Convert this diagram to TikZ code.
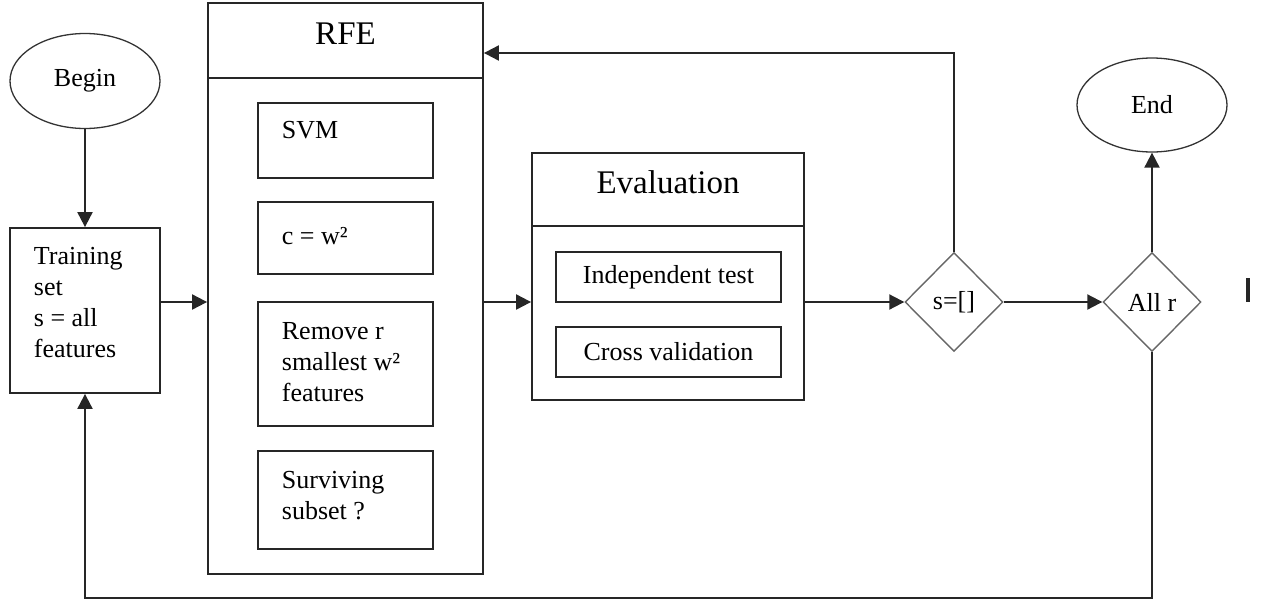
\documentclass[tikz,border=0pt]{standalone}
\usepackage{fontspec}
\setmainfont{Liberation Serif}
\usetikzlibrary{shapes.geometric,arrows.meta,calc}
\begin{document}
\begin{tikzpicture}[x=1pt,y=-1pt,line width=1.8pt,
  box/.style={draw=black!85, rectangle, inner sep=0pt, line width=1.8pt},
  oval/.style={draw=black!80, ellipse, inner sep=0pt, line width=1.3pt, font=\fontsize{26}{31}\selectfont},
  dia/.style={draw=black!60, diamond, inner sep=0pt, line width=1.4pt, minimum width=98pt, minimum height=99pt, font=\fontsize{26}{31}\selectfont},
  txt/.style={inner sep=0pt, align=left, font=\fontsize{26}{31}\selectfont},
  head/.style={inner sep=0pt, font=\fontsize{33}{38}\selectfont},
  arr/.style={draw=black!85, line width=2pt, -{Triangle[length=15pt,width=15pt]}}]
\useasboundingbox (0,0) rectangle (1266,603);
% helper coordinates
\coordinate (ymid) at (0,302);
\coordinate (ytop) at (0,53);
\coordinate (ybot) at (0,598);
% begin / end
\node[oval, minimum width=150pt, minimum height=95pt] (begin) at (85,81) {Begin};
\node[oval, minimum width=150pt, minimum height=94pt] (end) at (1152,105) {End};
% training set
\node[box, minimum width=150pt, minimum height=165pt] (train) at (85,310.5) {};
\node[txt, anchor=west] (traint) at (33,303) {Training\\set\\s = all\\features};
% RFE
\node[box, minimum width=275pt, minimum height=571pt] (rfe) at (345.5,288.5) {};
\draw[draw=black!85] ($(rfe.north west)+(0,76)$) -- ($(rfe.north east)+(0,76)$);
\node[head, anchor=base] (rfet) at (345.5,44) {RFE};
\node[box, minimum width=175pt, minimum height=75pt] (svm) at (345.5,140.5) {};
\node[txt, anchor=west] (svmt) at (281,130) {SVM};
\node[box, minimum width=175pt, minimum height=72pt] (cw) at (345.5,238) {};
\node[txt, anchor=west] (cwt) at (281,236) {c = w²};
\node[box, minimum width=175pt, minimum height=124pt] (rem) at (345.5,364) {};
\node[txt, anchor=west] (remt) at (281,362) {Remove r\\smallest w²\\features};
\node[box, minimum width=175pt, minimum height=98pt] (surv) at (345.5,500) {};
\node[txt, anchor=west] (survt) at (281,496) {Surviving\\subset ?};
% Evaluation
\node[box, minimum width=272pt, minimum height=247pt] (eval) at (668,276.5) {};
\draw[draw=black!85] ($(eval.north west)+(0,74)$) -- ($(eval.north east)+(0,74)$);
\node[head, anchor=base] (evalt) at (668,193) {Evaluation};
\node[box, minimum width=225pt, minimum height=50pt, font=\fontsize{26}{31}\selectfont] (indep) at (668.5,277) {Independent test};
\node[box, minimum width=225pt, minimum height=50pt, font=\fontsize{26}{31}\selectfont] (cross) at (668.5,352) {Cross validation};
% decisions
\node[dia] (s) at (954,302) {s=[]};
\node[dia] (allr) at (1152,302) {All r};
% connectors
\draw[arr] (begin.south) -- (train.north);
\draw[arr] (train.east |- ymid) -- (rfe.west |- ymid);
\draw[arr] (rfe.east |- ymid) -- (eval.west |- ymid);
\draw[arr] (eval.east |- ymid) -- (s.west);
\draw[arr] (s.east) -- (allr.west);
\draw[arr] (s.north) |- (rfe.east |- ytop);
\draw[arr] (allr.north) -- (end.south);
\draw[arr] (allr.south) |- (train.south |- ybot) -- (train.south);
% stray mark
\fill[black!85] (1246,278) rectangle (1250,302);
\end{tikzpicture}
\end{document}
